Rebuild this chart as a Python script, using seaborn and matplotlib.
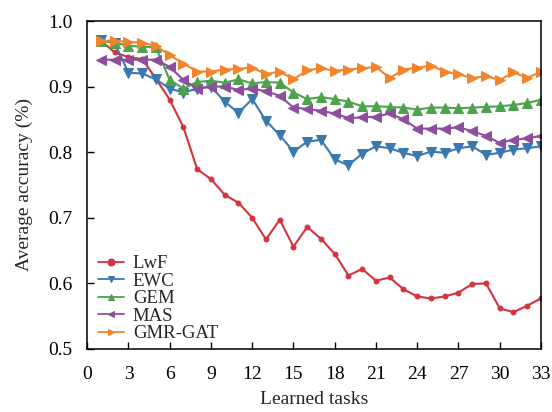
import numpy as np
import pandas as pd
import matplotlib
matplotlib.use("Agg")
import matplotlib.pyplot as plt
import seaborn as sns

tasks = list(range(1, 34))

lwf = [0.970, 0.952, 0.945, 0.942, 0.912, 0.880, 0.838, 0.774, 0.759, 0.735,
       0.723, 0.700, 0.667, 0.697, 0.656, 0.686, 0.668, 0.645, 0.612, 0.622,
       0.604, 0.609, 0.591, 0.580, 0.577, 0.580, 0.586, 0.599, 0.600, 0.562,
       0.556, 0.566, 0.577]
ewc = [0.971, 0.966, 0.921, 0.920, 0.911, 0.897, 0.891, 0.897, 0.900, 0.877,
       0.860, 0.881, 0.848, 0.826, 0.801, 0.816, 0.819, 0.789, 0.780, 0.798,
       0.809, 0.806, 0.799, 0.794, 0.801, 0.799, 0.806, 0.809, 0.796, 0.799,
       0.804, 0.806, 0.809]
gem = [0.970, 0.967, 0.962, 0.961, 0.960, 0.910, 0.897, 0.907, 0.909, 0.906,
       0.911, 0.905, 0.907, 0.906, 0.891, 0.881, 0.884, 0.881, 0.877, 0.870,
       0.870, 0.869, 0.868, 0.865, 0.868, 0.868, 0.867, 0.868, 0.869, 0.870,
       0.872, 0.875, 0.880]
mas = [0.941, 0.941, 0.941, 0.941, 0.941, 0.930, 0.910, 0.897, 0.900, 0.900,
       0.895, 0.897, 0.893, 0.886, 0.868, 0.866, 0.863, 0.859, 0.852, 0.853,
       0.854, 0.859, 0.850, 0.836, 0.836, 0.836, 0.838, 0.832, 0.825, 0.814,
       0.819, 0.821, 0.825]
gmr_gat = [0.970, 0.970, 0.968, 0.967, 0.962, 0.948, 0.935, 0.923, 0.923, 0.926,
           0.927, 0.929, 0.919, 0.923, 0.911, 0.925, 0.928, 0.924, 0.926, 0.928,
           0.930, 0.913, 0.926, 0.929, 0.932, 0.923, 0.919, 0.913, 0.916, 0.910,
           0.922, 0.913, 0.923]

methods = ["LwF", "EWC", "GEM", "MAS", "GMR-GAT"]
series = [lwf, ewc, gem, mas, gmr_gat]
colors = ["#d3333d", "#3a78b0", "#4ca34c", "#8c4f9e", "#f2842c"]
markers = ["o", "v", "^", "<", ">"]
marker_sizes = [3.5, 7, 7, 7, 7]

x_ticks = list(range(0, 34, 3))
y_ticks = [0.5, 0.6, 0.7, 0.8, 0.9, 1.0]

df = pd.DataFrame({
    "task": tasks * len(methods),
    "acc": sum(series, []),
    "method": np.repeat(methods, len(tasks)),
})

sns.set_style("white")
plt.rcParams["font.family"] = ["Liberation Serif", "DejaVu Serif"]

fig = plt.figure(figsize=(5.52, 4.12), dpi=100)
ax = fig.add_axes([0.158, 0.153, 0.822, 0.796])

for name, col, mk, ms in zip(methods, colors, markers, marker_sizes):
    sub = df[df["method"] == name]
    sns.lineplot(data=sub, x="task", y="acc", ax=ax, color=col, marker=mk,
                 markersize=ms, markeredgecolor=col, linewidth=1.5,
                 label=name, legend=False)

ax.set_xlim(0, 33)
ax.set_ylim(0.5, 1.0)
ax.set_xticks(x_ticks)
ax.set_yticks(y_ticks)
ax.set_yticklabels([f"{v:.1f}" for v in y_ticks])
ax.tick_params(axis="both", direction="in", length=5, width=1,
               labelsize=14, top=False, right=False,
               bottom=True, left=True, colors="black")
ax.tick_params(axis="x", pad=12)
ax.tick_params(axis="y", pad=10.5)
ax.set_xlabel("Learned tasks", fontsize=14, labelpad=6)
ax.set_ylabel("Average accuracy (%)", fontsize=14, labelpad=11)
for sp in ax.spines.values():
    sp.set_visible(True)
    sp.set_color("black")
    sp.set_linewidth(1.1)

handles, labels = ax.get_legend_handles_labels()
leg = ax.legend(handles, labels, loc="lower left", frameon=False,
                fontsize=13.5, handlelength=1.4, handletextpad=0.45,
                labelspacing=0.02, borderaxespad=0.3,
                bbox_to_anchor=(-0.005, -0.02))
for h in leg.legend_handles:
    h.set_markersize(5)
    h.set_linewidth(1.3)

fig.savefig("out.png", dpi=100)
